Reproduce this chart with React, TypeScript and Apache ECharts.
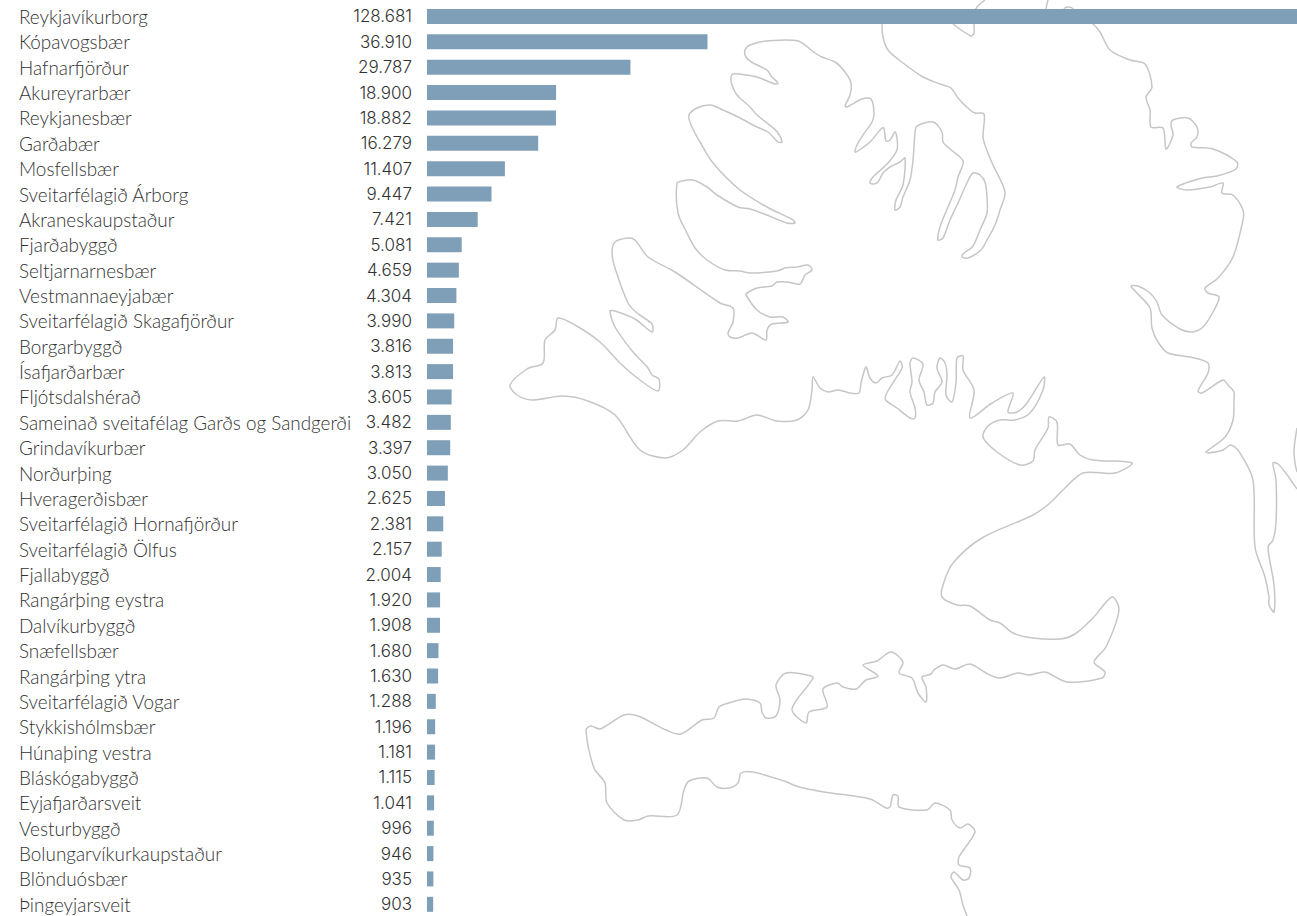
import React, { useEffect, useRef } from "react";
import * as echarts from "echarts";

const municipalities = [
  "Reykjavíkurborg", "Kópavogsbær", "Hafnarfjörður", "Akureyrarbær", "Reykjanesbær", "Garðabær",
  "Mosfellsbær", "Sveitarfélagið Árborg", "Akraneskaupstaður", "Fjarðabyggð", "Seltjarnarnesbær",
  "Vestmannaeyjabær", "Sveitarfélagið Skagafjörður", "Borgarbyggð", "Ísafjarðarbær", "Fljótsdalshérað",
  "Sameinað sveitafélag Garðs og Sandgerði", "Grindavíkurbær", "Norðurþing", "Hveragerðisbær",
  "Sveitarfélagið Hornafjörður", "Sveitarfélagið Ölfus", "Fjallabyggð", "Rangárþing eystra", "Dalvíkurbyggð",
  "Snæfellsbær", "Rangárþing ytra", "Sveitarfélagið Vogar", "Stykkishólmsbær", "Húnaþing vestra",
  "Bláskógabyggð", "Eyjafjarðarsveit", "Vesturbyggð", "Bolungarvíkurkaupstaður", "Blönduósbær", "Þingeyjarsveit",
];

const valueLabels = [
  "128.681", "36.910", "29.787", "18.900", "18.882", "16.279", "11.407", "9.447", "7.421", "5.081", "4.659",
  "4.304", "3.990", "3.816", "3.813", "3.605", "3.482", "3.397", "3.050", "2.625", "2.381", "2.157", "2.004",
  "1.920", "1.908", "1.680", "1.630", "1.288", "1.196", "1.181", "1.115", "1.041", "996", "946", "935", "903",
];

// Bar lengths as drawn. In the picture the Kópavogsbær bar is longer than its
// printed 36.910 (it measures about 41.000 on the scale of the other bars).
const barValues = [
  128681, 41070, 29787, 18900, 18882, 16279, 11407, 9447, 7421, 5081, 4659,
  4304, 3990, 3816, 3813, 3605, 3482, 3397, 3050, 2625, 2381, 2157, 2004,
  1920, 1908, 1680, 1630, 1288, 1196, 1181, 1115, 1041, 996, 946, 935, 903,
];

const coastWest: number[][] = [
  [882,24],[883,37],[888,50],[903,63],[923,77],[940,84],[951,88],[958,98],[970,110],[975,113],[984,114],[983,137],[986,148],[993,165],[1005,192],[1000,210],[995,225],[987,240],[981,250],[968,258],[962,257],[963,254],[973,246],[980,230],[987,213],[987,197],[985,182],[980,175],[973,173],[967,183],[958,203],[950,220],[943,238],[938,240],[940,227],[948,207],[955,190],[958,177],[963,161],[950,149],[943,142],[942,132],[933,122],[917,126],[915,133],[913,160],[910,180],[903,197],[900,207],[895,210],[896,200],[903,185],[905,158],[900,162],[890,167],[883,173],[878,182],[874,184],[870,183],[873,177],[888,163],[897,150],[897,138],[895,132],[890,140],[886,141],[884,128],[882,128],[870,142],[858,151],[855,152],[857,145],[863,135],[872,122],[874,113],[871,99],[862,99],[847,107],[845,106],[850,95],[851,83],[845,72],[835,62],[822,57],[815,53],[798,41],[767,41],[750,45],[745,50],[746,57],[753,63],[767,70],[772,77],[778,83],[775,84],[757,77],[747,75],[733,74],[731,78],[732,85],[737,95],[750,107],[757,115],[772,127],[778,133],[782,142],[778,142],[768,132],[757,127],[738,117],[723,110],[710,105],[697,108],[689,115],[691,125],[700,142],[713,163],[740,190],[767,207],[793,220],[795,223],[787,223],[767,215],[750,209],[738,207],[717,195],[707,187],[693,180],[682,181],[677,183],[678,213],[687,233],[695,248],[707,260],[725,270],[740,271],[750,273],[777,271],[785,268],[797,267],[808,265],[812,270],[805,275],[800,284],[787,282],[777,282],[772,286],[757,288],[747,293],[746,295],[757,310],[770,317],[783,317],[788,322],[772,324],[767,330],[766,340],[752,333],[738,338],[730,337],[728,333],[733,322],[733,308],[720,303],[675,272],[648,257],[635,240],[628,238],[615,242],[612,253],[615,268],[628,303],[637,313],[652,324],[652,332],[635,319],[615,311],[610,311],[615,327],[633,352],[648,368],[652,375],[659,379],[658,391],[640,380],[620,363],[600,342],[575,325],[558,318],[555,330],[545,340],[543,363],[527,369],[510,385],[517,395],[532,400],[563,396],[588,401],[615,415],[640,450],[665,458],[683,450],[700,432],[718,421],[738,421],[757,415],[777,421],[797,420],[808,410],[812,390],[813,377],[820,388],[828,392],[838,390],[850,393],[859,393],[861,383],[866,367],[870,378],[876,383],[882,378],[892,375],[900,361],[902,368],[885,398],[897,408],[910,418],[915,418],[915,408],[910,392],[912,382],[910,363],[913,358],[923,364],[919,380],[924,392],[927,405],[933,403],[935,392],[942,382],[937,368],[940,358],[945,363],[947,375],[946,395],[952,402],[956,383],[957,358],[963,356],[963,370],[974,390],[970,418],[992,403],[1013,393],[1008,412],[1017,412],[1027,403],[1044,377],[1043,390],[1030,413],[1015,420],[1000,420],[988,426],[983,437],[997,452],[1020,465],[1033,461],[1035,450],[1048,428],[1049,417],[1057,422],[1058,445],[1070,444],[1080,455],[1093,460],[1132,463],[1115,473],[1083,473],[1063,490],[1050,503],[1033,515],[982,538],[953,563],[943,585],[942,597],[957,605],[970,606],[990,620],[1000,623],[1013,633],[1033,638],[1060,639],[1075,634],[1093,618],[1112,597],[1119,610],[1106,647],[1094,662],[1105,672],[1102,678],[1067,682],[1045,672],[1029,675],[1018,673],[999,678],[986,673],[970,664],[955,669],[943,665],[934,670],[931,674],[922,677],[926,687],[926,702],[918,693],[912,678],[899,673],[903,662],[891,652],[877,661],[863,665],[878,676],[866,680],[856,689],[843,687],[837,683],[823,689],[827,707],[809,712],[806,723],[792,709],[813,678],[807,675],[786,673],[776,685],[780,700],[776,716],[766,718],[762,712],[760,703],[745,699],[729,703],[719,707],[714,718],[702,720],[681,734],[666,730],[638,716],[624,715],[600,729],[591,726],[586,730],[594,768],[605,783],[607,803],[624,820],[638,820],[648,816],[677,815],[684,790],[689,781],[707,778],[717,787],[729,788],[738,783],[741,773],[753,772],[784,781],[799,787],[824,792],[870,799],[886,808],[890,807],[893,795],[898,796],[899,807],[927,810],[935,803],[950,810],[952,820],[960,828],[968,824],[975,832],[959,857],[959,865],[970,868],[969,878],[963,880],[954,872],[951,877],[959,890],[963,905],[967,916],
];

const coastEast: number[][] = [
  [1060,15],[1065,8],[1068,7],[1072,8],[1078,15],[1093,24],[1100,32],[1110,50],[1130,60],[1145,64],[1152,87],[1146,97],[1150,110],[1151,127],[1163,128],[1166,149],[1173,135],[1171,125],[1173,120],[1188,118],[1197,127],[1197,137],[1191,143],[1192,147],[1213,149],[1237,162],[1236,169],[1217,176],[1202,178],[1177,187],[1187,190],[1210,187],[1223,183],[1222,193],[1233,195],[1243,210],[1243,220],[1233,257],[1218,278],[1205,288],[1208,293],[1219,297],[1213,312],[1203,327],[1192,332],[1180,329],[1162,315],[1157,302],[1150,293],[1138,286],[1131,286],[1137,293],[1150,308],[1152,328],[1158,342],[1168,353],[1190,357],[1208,363],[1208,373],[1198,391],[1202,393],[1223,380],[1228,385],[1234,392],[1234,400],[1233,420],[1225,437],[1206,452],[1208,453],[1223,450],[1231,445],[1240,453],[1253,480],[1255,547],[1265,577],[1269,597],[1269,605],[1274,612],[1274,585],[1268,547],[1273,540],[1276,523],[1276,480],[1273,463],[1278,464],[1285,472],[1297,489],
];

const coastTopFjord: number[][] = [[985,0],[977,7],[975,12],[974,24],[974,33],[971,36],[953,24]];
const coastTopStub: number[][] = [[1048,0],[1046,9],[1046,14]];
const coastRightEdge: number[][] = [[1297,428],[1294,450],[1295,463],[1297,472]];

const coastLines = [coastWest, coastEast, coastTopFjord, coastTopStub, coastRightEdge];

export default function App() {
  const ref = useRef<HTMLDivElement>(null);
  useEffect(() => {
    document.body.style.margin = "0";
    document.body.style.overflow = "hidden";
    const chart = echarts.init(ref.current!, null, { renderer: "svg" });
    chart.setOption({
      animation: false,
      backgroundColor: "#ffffff",
      graphic: {
        elements: coastLines.map((points) => ({
          type: "polyline",
          silent: true,
          z: -1,
          shape: { points, smooth: 0.3 },
          style: { fill: null, stroke: "#c6c6c6", lineWidth: 1.5 },
        })),
      },
      grid: { left: 427, top: 3.8, width: 901.5, height: 913.2, outerBoundsMode: "none" },
      xAxis: { type: "value", min: 0, max: 132000, show: false },
      yAxis: [
        {
          type: "category",
          inverse: true,
          data: municipalities,
          axisLine: { show: false },
          axisTick: { show: false },
          splitLine: { show: false },
          axisLabel: {
            interval: 0,
            align: "left",
            margin: 408,
            fontFamily: "Lato",
            fontSize: 18.9,
            fontWeight: 300,
            color: "#333333",
            padding: [0, 0, 2, 0],
          },
        },
        {
          type: "category",
          inverse: true,
          position: "left",
          data: valueLabels,
          axisLine: { show: false },
          axisTick: { show: false },
          splitLine: { show: false },
          axisLabel: {
            interval: 0,
            align: "right",
            margin: 15,
            fontFamily: "Inter",
            fontSize: 17,
            fontWeight: 300,
            color: "#333333",
            padding: [0, 0, 2, 0],
          },
        },
      ],
      series: [
        {
          type: "bar",
          yAxisIndex: 0,
          data: barValues,
          barWidth: 15,
          z: 5,
          itemStyle: { color: "#7e9fb7" },
        },
      ],
    });
    return () => chart.dispose();
  }, []);
  return <div ref={ref} style={{ position: "fixed", left: 0, top: 0, width: 1297, height: 916 }} />;
}
